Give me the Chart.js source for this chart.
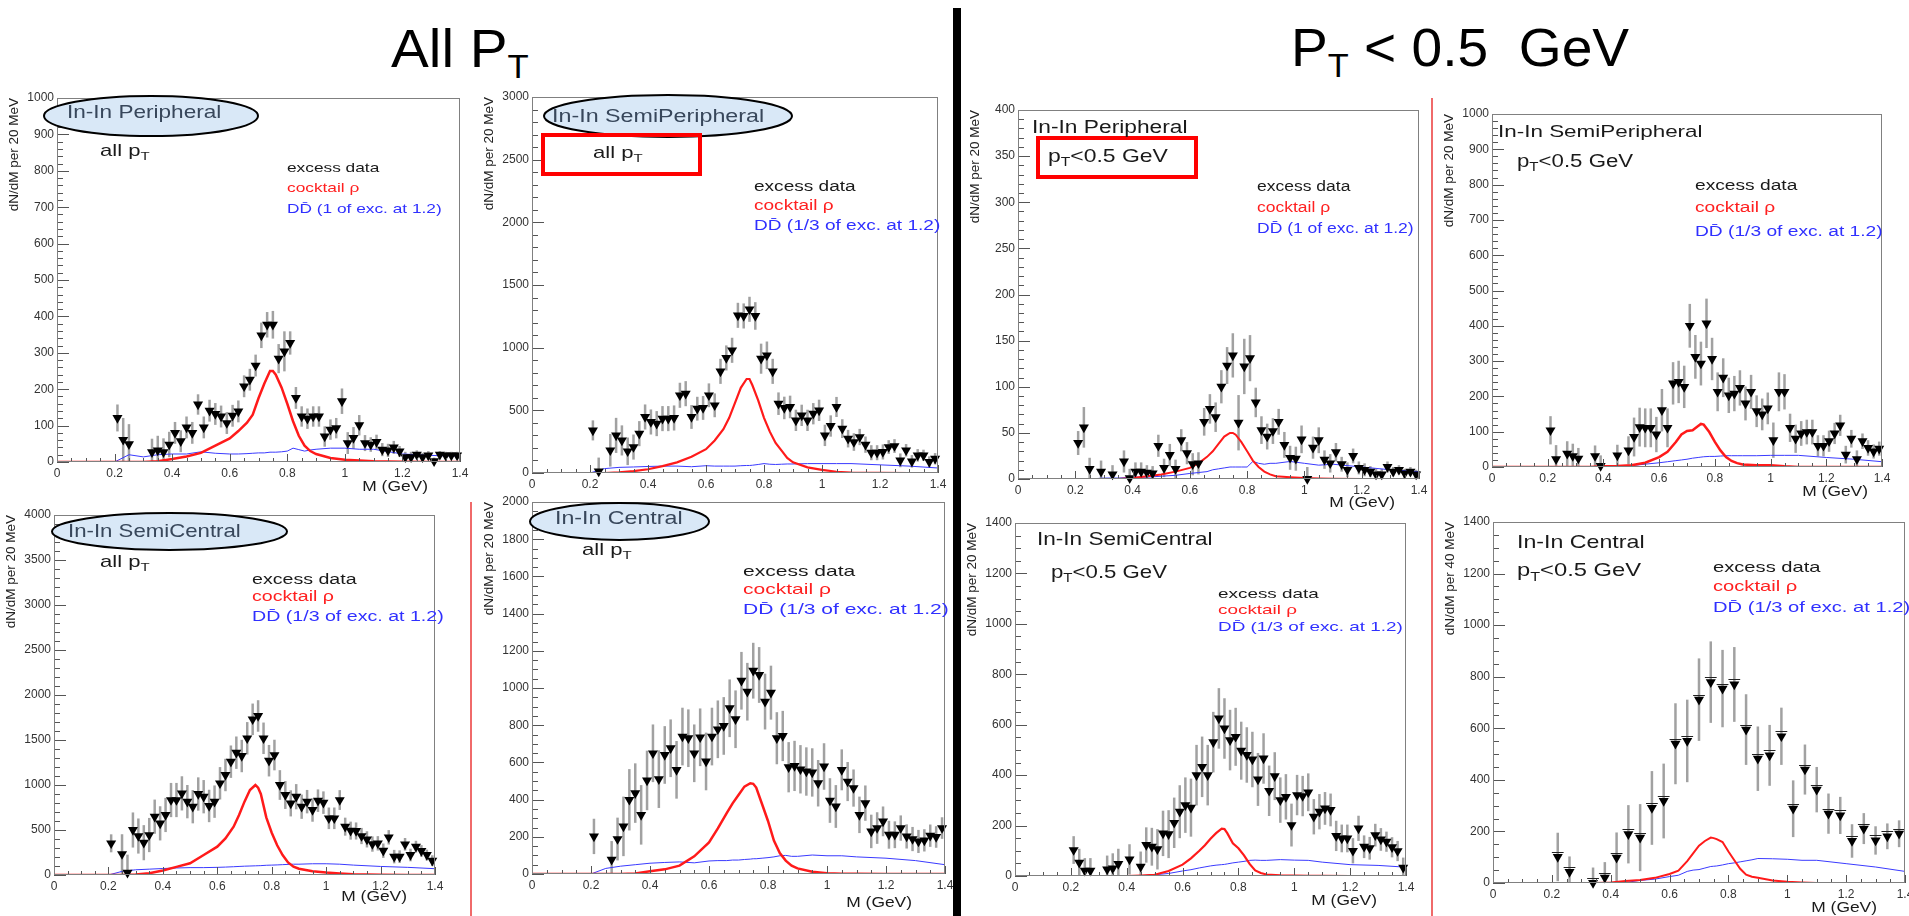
<!DOCTYPE html>
<html>
<head>
<meta charset="utf-8">
<script src="https://cdn.jsdelivr.net/npm/chart.js@4.4.1/dist/chart.umd.min.js"></script>
<style>
html, body { margin: 0; padding: 0; background: #fff; }
body { width: 1909px; height: 916px; position: relative; overflow: hidden; font-family: 'Liberation Sans', Arial, sans-serif; }
canvas { position: absolute; }
.head { position: absolute; font-size: 54px; line-height: 1; color: #000; white-space: nowrap; transform-origin: 0 0; }
.head span { font-size: 33px; position: relative; top: 11px; }
.bar { position: absolute; z-index: 5; }
</style>
</head>
<body>
<div class="head" style="left:391px; top:21px; transform:scaleX(1.05);">All P<span>T</span></div>
<div class="head" style="left:1291px; top:21px; font-size:53px; transform:scaleX(1.04);">P<span>T</span> &lt; 0.5&nbsp; GeV</div>
<div class="bar" style="left:953px; top:8px; width:8px; height:908px; background:#000;"></div>
<div class="bar" style="left:1431px; top:98px; width:2px; height:818px; background:#f06a6a;"></div>
<div class="bar" style="left:470px; top:502px; width:2px; height:414px; background:#f06a6a;"></div>
<script>
const FONT = "'Liberation Sans', Arial, sans-serif";
Chart.defaults.font.family = FONT;

// mass bins (GeV)
const mass20 = [0.21, 0.23, 0.25, 0.27, 0.29, 0.31, 0.33, 0.35, 0.37, 0.39,
  0.41, 0.43, 0.45, 0.47, 0.49, 0.51, 0.53, 0.55, 0.57, 0.59,
  0.61, 0.63, 0.65, 0.67, 0.69, 0.71, 0.73, 0.75, 0.77, 0.79,
  0.81, 0.83, 0.85, 0.87, 0.89, 0.91, 0.93, 0.95, 0.97, 0.99,
  1.01, 1.03, 1.05, 1.07, 1.09, 1.11, 1.13, 1.15, 1.17, 1.19,
  1.21, 1.23, 1.25, 1.27, 1.29, 1.31, 1.33, 1.35, 1.37, 1.39];
const mass40 = [0.22, 0.26, 0.30, 0.34, 0.38, 0.42, 0.46, 0.50, 0.54, 0.58,
  0.62, 0.66, 0.70, 0.74, 0.78, 0.82, 0.86, 0.90, 0.94, 0.98,
  1.02, 1.06, 1.10, 1.14, 1.18, 1.22, 1.26, 1.30, 1.34, 1.38];
const curveMass = [0, 0.1, 0.2, 0.25, 0.3, 0.35, 0.4, 0.45, 0.5, 0.55,
  0.6, 0.63, 0.66, 0.68, 0.7, 0.72, 0.74, 0.75, 0.76, 0.78,
  0.8, 0.82, 0.84, 0.86, 0.88, 0.9, 0.95, 1.0, 1.05, 1.1,
  1.2, 1.3, 1.4];

const xTickValues = [0, 0.2, 0.4, 0.6, 0.8, 1.0, 1.2, 1.4];
const xTickLabels = ['0', '0.2', '0.4', '0.6', '0.8', '1', '1.2', '1.4'];
const yTicks1000 = [0, 100, 200, 300, 400, 500, 600, 700, 800, 900, 1000];
const yTicks3000 = [0, 500, 1000, 1500, 2000, 2500, 3000];
const yTicks400 = [0, 50, 100, 150, 200, 250, 300, 350, 400];
const yTicks4000 = [0, 500, 1000, 1500, 2000, 2500, 3000, 3500, 4000];
const yTicks2000 = [0, 200, 400, 600, 800, 1000, 1200, 1400, 1600, 1800, 2000];
const yTicks1400 = [0, 200, 400, 600, 800, 1000, 1200, 1400];

// all pT, peripheral
const periphAllExcess = [121, 61, 49, null, null, null, 27, 32, 27, 48,
  80, 57, 95, 80, 158, 95, 141, 132, 125, 107,
  127, 139, 208, 226, 265, 348, 377, 377, 284, 304,
  327, 176, 125, 119, 125, 125, 70, 89, 93, 167,
  52, 66, 101, 52, 48, 55, 34, 32, 40, 29,
  13, 13, 20, 13, 18, 2, 20, 18, 18, 18];
const periphAllErr = [37, 60, 55, null, null, null, 37, 40, 38, 35,
  30, 30, 30, 30, 28, 30, 30, 30, 30, 30,
  30, 30, 30, 30, 30, 35, 35, 38, 40, 55,
  32, 30, 28, 28, 28, 28, 28, 28, 28, 35,
  30, 30, 28, 22, 20, 20, 18, 18, 18, 15,
  15, 15, 12, 12, 12, 10, 10, 10, 10, 10];
const periphAllCocktail = [0, 0, 0, 0, 0, 2, 8, 15, 25, 45,
  65, 85, 108, 130, 175, 215, 250, 250, 240, 205,
  160, 112, 72, 45, 30, 22, 11, 6, 4, 2, 1, 0, 0];
const periphAllDD = [0, 0, 0, 20, 14, 20, 22, 22, 28, 24,
  22, 22, 23, 24, 25, 25, 27, 27, 27, 28,
  30, 38, 34, 30, 33, 35, 38, 38, 35, 35, 22, 18, 16];

// all pT, semi-peripheral
const semiPeriphAllExcess = [340, 13, null, 181, 300, 260, 173, 207, 314, 447,
  407, 394, 434, 434, 439, 620, 633, 447, 513, 519,
  620, 540, 811, 918, 979, 1258, 1253, 1306, 1253, 912,
  939, 811, 553, 519, 527, 420, 460, 420, 473, 500,
  300, 375, 527, 354, 274, 247, 287, 226, 162, 162,
  168, 207, 215, 101, 181, 93, 141, 141, 88, 114];
const semiPeriphAllErr = [80, 110, null, 130, 140, 120, 110, 100, 100, 100,
  100, 100, 100, 100, 100, 100, 100, 95, 95, 95,
  95, 95, 100, 100, 100, 100, 100, 100, 110, 120,
  110, 100, 90, 90, 90, 85, 85, 85, 85, 85,
  85, 85, 80, 75, 70, 70, 65, 65, 60, 60,
  60, 55, 55, 55, 50, 50, 50, 45, 45, 45];
const semiPeriphAllCocktail = [0, 0, 0, 0, 5, 15, 30, 55, 85, 130,
  190, 260, 350, 440, 560, 680, 750, 750, 700, 580,
  440, 330, 240, 180, 120, 85, 45, 25, 10, 4, 1, 0, 0];
const semiPeriphAllDD = [0, 0, 0, 35, 45, 48, 52, 55, 55, 50,
  58, 55, 55, 55, 55, 58, 60, 60, 62, 68,
  75, 70, 68, 70, 72, 72, 75, 75, 75, 75, 65, 55, 40];

// all pT, semi-central
const semiCentralAllExcess = [352, null, 233, 26, 500, 433, 359, 444, 648, 574,
  667, 833, 833, 907, 815, 759, 900, 870, 767, 815,
  1019, 1111, 1259, 1359, 1322, 1519, 1730, 1767, 1519, 1270,
  1333, 1000, 889, 796, 870, 759, 815, 722, 826, 804,
  630, 630, 833, 537, 493, 489, 433, 396, 344, 352,
  270, 419, 204, 204, 341, 222, 315, 267, 222, 159];
const semiCentralAllErr = [100, null, 220, 200, 195, 195, 195, 190, 190, 190,
  190, 190, 190, 190, 185, 185, 185, 185, 180, 180,
  180, 180, 180, 180, 180, 180, 175, 175, 175, 175,
  170, 165, 155, 145, 140, 135, 130, 130, 125, 125,
  120, 120, 110, 100, 100, 95, 90, 90, 85, 80,
  80, 80, 75, 70, 70, 70, 65, 65, 60, 60];
const semiCentralAllCocktail = [0, 0, 0, 0, 5, 20, 50, 90, 130, 222,
  315, 407, 537, 667, 815, 944, 1000, 970, 900, 640,
  470, 330, 222, 140, 93, 70, 42, 28, 18, 8, 2, 0, 0];
const semiCentralAllDD = [0, 0, 0, 40, 58, 65, 72, 78, 82, 82,
  85, 88, 92, 95, 98, 100, 102, 103, 104, 108,
  110, 112, 115, 118, 120, 120, 125, 125, 120, 110, 95, 85, 70];

// all pT, central
const centralAllExcess = [202, null, null, 77, 188, 256, 399, 435, 318, 503,
  649, 510, 640, 676, 560, 739, 730, 649, 735, 605,
  739, 778, 796, 891, 832, 1039, 980, 1093, 1070, 927,
  975, 730, 742, 574, 581, 563, 551, 546, 488, 578,
  395, 363, 560, 497, 462, 318, 381, 229, 247, 283,
  211, 211, 247, 202, 188, 175, 181, 206, 199, 247];
const centralAllErr = [95, null, null, 100, 115, 160, 165, 160, 160, 160,
  155, 155, 155, 155, 155, 155, 155, 155, 155, 155,
  155, 155, 155, 155, 155, 155, 155, 150, 150, 150,
  145, 140, 135, 135, 135, 130, 130, 130, 125, 125,
  120, 115, 110, 105, 100, 98, 95, 90, 85, 80,
  75, 72, 68, 65, 65, 62, 60, 60, 58, 58];
const centralAllCocktail = [0, 0, 0, 0, 0, 3, 15, 25, 45, 95,
  170, 245, 327, 380, 425, 470, 488, 485, 465, 375,
  285, 180, 113, 72, 45, 30, 12, 4, 2, 1, 0, 0, 0];
const centralAllDD = [0, 0, 0, 30, 42, 50, 58, 62, 65, 60,
  70, 72, 72, 75, 75, 78, 80, 82, 82, 85,
  88, 92, 98, 100, 95, 95, 102, 98, 98, 92, 85, 72, 50];

// pT < 0.5 GeV, peripheral
const periphLowExcess = [39, 56, 11, null, 8, null, 5, null, 19, 1,
  8, 8, 7, 6, 36, 12, 26, 11, 42, 28,
  16, 17, 62, 76, 67, 100, 123, 134, 61, 122,
  131, 83, 53, 46, 52, 62, 37, 23, 22, 43,
  0, 34, 42, 21, 17, 29, 16, 10, 25, 12,
  10, 8, 5, 5, 13, 8, 10, 6, 8, 5];
const periphLowErr = [13, 22, 12, null, 12, null, 10, null, 12, 10,
  10, 10, 8, 8, 12, 10, 12, 10, 12, 12,
  12, 12, 15, 16, 16, 18, 20, 24, 30, 30,
  25, 16, 15, 14, 14, 14, 14, 13, 13, 15,
  13, 12, 14, 10, 10, 10, 8, 8, 8, 7,
  7, 6, 6, 6, 6, 5, 5, 5, 5, 5];
const periphLowCocktail = [0, 0, 0, 0, 0, 0, 1, 3, 5, 8,
  12, 17, 24, 30, 38, 46, 50, 50, 48, 40,
  30, 20, 13, 8, 5, 3, 2, 1, 0.5, 0.3, 0, 0, 0];
const periphLowDD = [0, 0, 0, 0, 1, 1, 2, 2, 3, 4,
  6, 7, 8, 10, 11, 12, 13, 13, 13, 13,
  13, 19, 17, 16, 17, 17, 19, 17, 15, 16, 13, 10, 8];

// pT < 0.5 GeV, semi-peripheral
const semiPeriphLowExcess = [104, 22, null, 38, 31, 24, null, null, 31, 3,
  null, null, 33, null, 47, 85, 113, 111, 111, 92,
  161, 111, 237, 241, 227, 400, 312, 293, 407, 306,
  213, 253, 203, 208, 224, 180, 213, 158, 149, 166,
  76, 213, 213, 111, 80, 95, 99, 99, 60, 60,
  73, 95, 118, 35, 80, 22, 73, 54, 44, 52];
const semiPeriphLowErr = [40, 40, null, 35, 35, 30, null, null, 30, 30,
  null, null, 30, null, 40, 55, 55, 55, 55, 50,
  60, 55, 60, 60, 60, 62, 62, 62, 70, 60,
  55, 55, 50, 50, 50, 48, 48, 45, 45, 45,
  50, 55, 50, 40, 40, 35, 35, 35, 30, 30,
  30, 30, 30, 25, 25, 25, 22, 22, 20, 20];
const semiPeriphLowCocktail = [0, 0, 0, 0, 0, 0, 2, 3, 5, 12,
  28, 43, 71, 92, 102, 104, 116, 122, 120, 99,
  71, 47, 28, 17, 11, 7, 5, 5, 2, 0, 0, 0, 0];
const semiPeriphLowDD = [0, 0, 0, 0, 0, 0, 0, 2, 4, 8,
  12, 15, 18, 20, 22, 25, 27, 28, 29, 30,
  30, 31, 32, 32, 32, 32, 32, 33, 33, 33, 27, 22, 15];

// pT < 0.5 GeV, semi-central
const semiCentralLowExcess = [103, 53, 21, 21, null, null, 26, 30, 48, null,
  66, null, 37, 123, 116, 106, 169, 166, 211, 255,
  281, 271, 400, 433, 400, 531, 625, 585, 539, 552,
  497, 480, 462, 383, 466, 338, 396, 301, 314, 202,
  321, 317, 332, 235, 255, 268, 262, 159, 149, 149,
  100, 189, 116, 110, 162, 145, 136, 114, 99, 33];
const semiCentralLowErr = [55, 55, 50, 50, null, null, 55, 60, 60, null,
  60, null, 60, 70, 75, 80, 90, 95, 100, 105,
  110, 115, 120, 120, 120, 120, 120, 120, 120, 115,
  115, 110, 110, 105, 100, 100, 95, 90, 90, 85,
  80, 80, 75, 70, 70, 65, 65, 60, 55, 55,
  50, 50, 45, 45, 45, 45, 40, 40, 40, 40];
const semiCentralLowCocktail = [0, 0, 0, 0, 0, 0, 0, 2, 5, 20,
  45, 70, 100, 122, 148, 170, 188, 186, 170, 130,
  110, 82, 48, 22, 12, 6, 3, 2, 1, 1, 0, 0, 0];
const semiCentralLowDD = [0, 0, 0, 0, 0, 0, 0, 1, 5, 10,
  20, 25, 32, 36, 40, 43, 45, 46, 48, 52,
  55, 58, 62, 63, 62, 62, 65, 63, 62, 55, 45, 42, 35];

// pT < 0.5 GeV, central (40 MeV bins)
const centralLowExcess = [101, 43, null, 0, 21, 98, 189, 176, 291, 318,
  540, 551, 711, 779, 754, 770, 595, 482, 495, 569,
  288, 440, 362, 269, 262, 163, 211, 165, 181, 191];
const centralLowErr = [94, 60, null, 60, 60, 98, 113, 130, 143, 145,
  157, 160, 160, 158, 150, 145, 137, 125, 118, 111,
  110, 97, 88, 78, 72, 65, 60, 55, 50, 52];
const centralLowCocktail = [0, 0, 0, 0, 0, 0, 2, 8, 12, 20,
  35, 48, 85, 115, 145, 163, 176, 174, 170, 159,
  122, 88, 55, 32, 24, 20, 10, 5, 2, 0, 0, 0, 0];
const centralLowDD = [0, 0, 0, 0, 0, 0, 0, 2, 10, 15,
  25, 30, 45, 50, 52, 58, 64, 65, 66, 70,
  75, 78, 82, 86, 90, 95, 94, 92, 88, 88, 75, 62, 45];

// panel placement (plot area in page pixels) and the texts on each plot
const ELL = '#38475b';
const panels = [
  { L: 57, T: 98, R: 460, B: 462, mass: mass20, excess: periphAllExcess, err: periphAllErr,
    cocktail: periphAllCocktail, dd: periphAllDD, yTicks: yTicks1000, yMinor: 20, yTitle: 'dN/dM per 20 MeV', red: 2.5,
    ellipse: { cx: 94, cy: 18, rx: 107, ry: 20 },
    title: { x: 10, y: 15, text: 'In-In Peripheral', size: 18.5, sx: 1.22, color: ELL },
    sub: { x: 43, y: 53, text: 'all p_{T}', size: 17, sx: 1.3 },
    legend: { x: 230, y: [70, 90, 111], size: 13, sx: 1.33, dd: ' (1 of exc. at 1.2)' },
    xTitle: { r: 32, y: 25 } },
  { L: 532, T: 97, R: 938, B: 473, mass: mass20, excess: semiPeriphAllExcess, err: semiPeriphAllErr,
    cocktail: semiPeriphAllCocktail, dd: semiPeriphAllDD, yTicks: yTicks3000, yMinor: 100, yTitle: 'dN/dM per 20 MeV', red: 2.2,
    ellipse: { cx: 136, cy: 19, rx: 124, ry: 21 },
    title: { x: 20, y: 20, text: 'In-In SemiPeripheral', size: 17.5, sx: 1.33, color: ELL },
    box: { x: 11, y: 38, w: 157, h: 39 },
    sub: { x: 61, y: 56, text: 'all p_{T}', size: 17, sx: 1.3 },
    legend: { x: 222, y: [90, 109, 129], size: 14, sx: 1.36, dd: ' (1/3 of exc. at 1.2)' },
    xTitle: null },
  { L: 1018, T: 110, R: 1419, B: 479, mass: mass20, excess: periphLowExcess, err: periphLowErr,
    cocktail: periphLowCocktail, dd: periphLowDD, yTicks: yTicks400, yMinor: 10, yTitle: 'dN/dM per 20 MeV', red: 2,
    title: { x: 14, y: 18, text: 'In-In Peripheral', size: 17.5, sx: 1.3, color: '#1a1a1a' },
    box: { x: 20, y: 28, w: 158, h: 39 },
    sub: { x: 30, y: 47, text: 'p_{T}<0.5 GeV', size: 18.5, sx: 1.24 },
    legend: { x: 239, y: [77, 98, 119], size: 14, sx: 1.25, dd: ' (1 of exc. at 1.2)' },
    xTitle: { r: 24, y: 24 } },
  { L: 1492, T: 114, R: 1882, B: 467, mass: mass20, excess: semiPeriphLowExcess, err: semiPeriphLowErr,
    cocktail: semiPeriphLowCocktail, dd: semiPeriphLowDD, yTicks: yTicks1000, yMinor: 20, yTitle: 'dN/dM per 20 MeV', red: 2.5,
    title: { x: 6, y: 18, text: 'In-In SemiPeripheral', size: 17, sx: 1.32, color: '#1a1a1a' },
    sub: { x: 25, y: 48, text: 'p_{T}<0.5 GeV', size: 17.5, sx: 1.27 },
    legend: { x: 203, y: [72, 94, 118], size: 14, sx: 1.37, dd: ' (1/3 of exc. at 1.2)' },
    xTitle: { r: 14, y: 25 } },
  { L: 54, T: 515, R: 435, B: 875, mass: mass20, excess: semiCentralAllExcess, err: semiCentralAllErr,
    cocktail: semiCentralAllCocktail, dd: semiCentralAllDD, yTicks: yTicks4000, yMinor: 100, yTitle: 'dN/dM per 20 MeV', red: 2.5,
    ellipse: { cx: 115.5, cy: 16.5, rx: 117.5, ry: 18.5 },
    title: { x: 14, y: 17, text: 'In-In SemiCentral', size: 18.5, sx: 1.2, color: ELL },
    sub: { x: 46, y: 47, text: 'all p_{T}', size: 17, sx: 1.3 },
    legend: { x: 198, y: [65, 82, 102], size: 14, sx: 1.4, dd: ' (1/3 of exc. at 1.2)' },
    xTitle: { r: 28, y: 22 } },
  { L: 532, T: 502, R: 945, B: 874, mass: mass20, excess: centralAllExcess, err: centralAllErr,
    cocktail: centralAllCocktail, dd: centralAllDD, yTicks: yTicks2000, yMinor: 50, yTitle: 'dN/dM per 20 MeV', red: 2.5,
    ellipse: { cx: 87.5, cy: 19.5, rx: 89.5, ry: 18.5 },
    title: { x: 23, y: 17, text: 'In-In Central', size: 19, sx: 1.22, color: ELL },
    sub: { x: 50, y: 48, text: 'all p_{T}', size: 17, sx: 1.3 },
    legend: { x: 211, y: [70, 88, 108], size: 14.5, sx: 1.45, dd: ' (1/3 of exc. at 1.2)' },
    xTitle: { r: 33, y: 29 } },
  { L: 1015, T: 523, R: 1406, B: 876, mass: mass20, excess: semiCentralLowExcess, err: semiCentralLowErr,
    cocktail: semiCentralLowCocktail, dd: semiCentralLowDD, yTicks: yTicks1400, yMinor: 50, yTitle: 'dN/dM per 20 MeV', red: 2.2,
    title: { x: 22, y: 17, text: 'In-In SemiCentral', size: 18.5, sx: 1.22, color: '#1a1a1a' },
    sub: { x: 36, y: 50, text: 'p_{T}<0.5 GeV', size: 18.5, sx: 1.2 },
    legend: { x: 203, y: [71, 87, 104], size: 13.5, sx: 1.4, dd: ' (1/3 of exc. at 1.2)' },
    xTitle: { r: 29, y: 25 } },
  { L: 1493, T: 522, R: 1905, B: 883, mass: mass40, excess: centralLowExcess, err: centralLowErr,
    cocktail: centralLowCocktail, dd: centralLowDD, yTicks: yTicks1400, yMinor: 50, yTitle: 'dN/dM per 40 MeV', red: 2,
    xErr: 0.02,
    title: { x: 24, y: 21, text: 'In-In Central', size: 19, sx: 1.22, color: '#1a1a1a' },
    sub: { x: 24, y: 49, text: 'p_{T}<0.5 GeV', size: 19, sx: 1.25 },
    legend: { x: 220, y: [46, 65, 86], size: 14.5, sx: 1.39, dd: ' (1/3 of exc. at 1.2)' },
    xTitle: { r: 28, y: 25 } }
];

// text with optional _{sub} parts, stretched horizontally by sx
function drawText(ctx, x, y, str, size, color, sx, align) {
  const parts = str.split(/(_\{[^}]*\})/).filter(s => s);
  ctx.save();
  ctx.textBaseline = 'middle';
  ctx.textAlign = 'left';
  let total = 0;
  const pieces = parts.map(s => {
    const sub = s.startsWith('_{');
    const t = sub ? s.slice(2, -1) : s;
    const f = (sub ? size * 0.68 : size) + 'px ' + FONT;
    ctx.font = f;
    const w = ctx.measureText(t).width;
    total += w;
    return { t, f, w, sub };
  });
  ctx.translate(x, y);
  ctx.scale(sx, 1);
  let cx = align === 'right' ? -total : 0;
  ctx.fillStyle = color;
  pieces.forEach(pc => {
    ctx.font = pc.f;
    ctx.fillText(pc.t, cx, pc.sub ? size * 0.32 : 0);
    cx += pc.w;
  });
  ctx.restore();
}

function rootPlugin(p) {
  return {
    id: 'rootStyle',
    beforeDatasetsDraw(chart) {
      const { ctx, chartArea: a } = chart;
      const x = chart.scales.x, y = chart.scales.y;
      ctx.save();
      ctx.beginPath();
      ctx.rect(a.left, a.top, a.right - a.left, a.bottom - a.top);
      ctx.clip();
      ctx.strokeStyle = 'rgba(125,125,125,0.72)';
      ctx.lineWidth = 2.5;
      p.mass.forEach((m, i) => {
        const v = p.excess[i];
        if (v === null) return;
        const px = x.getPixelForValue(m);
        ctx.beginPath();
        ctx.moveTo(px, y.getPixelForValue(v - p.err[i]));
        ctx.lineTo(px, y.getPixelForValue(v + p.err[i]));
        ctx.stroke();
      });
      if (p.xErr) {
        ctx.strokeStyle = '#222';
        ctx.lineWidth = 1;
        p.mass.forEach((m, i) => {
          const v = p.excess[i];
          if (v === null) return;
          const py = Math.round(y.getPixelForValue(v)) - 4.5;
          ctx.beginPath();
          ctx.moveTo(x.getPixelForValue(m - p.xErr), py);
          ctx.lineTo(x.getPixelForValue(m + p.xErr), py);
          ctx.stroke();
        });
      }
      ctx.restore();
    },
    afterDraw(chart) {
      const { ctx, chartArea: a } = chart;
      const x = chart.scales.x, y = chart.scales.y;
      const yMax = p.yTicks[p.yTicks.length - 1];
      ctx.save();
      // inner ticks
      ctx.strokeStyle = '#555';
      ctx.lineWidth = 1;
      ctx.beginPath();
      for (let v = 0; v <= yMax + 1e-6; v += p.yMinor) {
        const py = Math.round(y.getPixelForValue(v)) + 0.5;
        const len = p.yTicks.includes(v) ? 12 : 6;
        ctx.moveTo(a.left, py);
        ctx.lineTo(a.left + len, py);
      }
      for (let k = 0; k <= 28; k++) {
        const v = k * 0.05;
        const px = Math.round(x.getPixelForValue(v)) + 0.5;
        const len = k % 4 === 0 ? 8 : 4;
        ctx.moveTo(px, a.bottom);
        ctx.lineTo(px, a.bottom - len);
      }
      ctx.stroke();
      // frame
      ctx.strokeStyle = '#808080';
      ctx.strokeRect(a.left + 0.5, a.top + 0.5, a.right - a.left - 1, a.bottom - a.top - 1);

      if (p.ellipse) {
        const e = p.ellipse;
        ctx.beginPath();
        ctx.ellipse(a.left + e.cx, a.top + e.cy, e.rx, e.ry, 0, 0, Math.PI * 2);
        ctx.fillStyle = '#d9e8f7';
        ctx.fill();
        ctx.lineWidth = 2;
        ctx.strokeStyle = '#000';
        ctx.stroke();
      }
      if (p.box) {
        ctx.lineWidth = 4;
        ctx.strokeStyle = '#ff0000';
        ctx.strokeRect(a.left + p.box.x, a.top + p.box.y, p.box.w, p.box.h);
      }
      const t = p.title;
      drawText(ctx, a.left + t.x, a.top + t.y, t.text, t.size, t.color, t.sx);
      const s = p.sub;
      drawText(ctx, a.left + s.x, a.top + s.y, s.text, s.size, '#1a1a1a', s.sx);
      const lg = p.legend;
      drawText(ctx, a.left + lg.x, a.top + lg.y[0], 'excess data', lg.size, '#1a1a1a', lg.sx);
      drawText(ctx, a.left + lg.x, a.top + lg.y[1], 'cocktail \u03c1', lg.size, '#ff2020', lg.sx);
      drawText(ctx, a.left + lg.x, a.top + lg.y[2], 'DD\u0304' + lg.dd, lg.size, '#3030ff', lg.sx);
      if (p.xTitle) {
        drawText(ctx, a.right - p.xTitle.r, a.bottom + p.xTitle.y, 'M (GeV)', 14.5, '#1a1a1a', 1.2, 'right');
      }
      ctx.restore();
    }
  };
}

function makePanel(p) {
  const padL = 60, padT = 12, padR = 12, padB = 45;
  const canvas = document.createElement('canvas');
  canvas.width = (p.R - p.L) + padL + padR;
  canvas.height = (p.B - p.T) + padT + padB;
  canvas.style.left = (p.L - padL) + 'px';
  canvas.style.top = (p.T - padT) + 'px';
  document.body.appendChild(canvas);

  const points = p.mass.map((m, i) => ({ x: m, y: p.excess[i] })).filter(d => d.y !== null);
  const cocktail = curveMass.map((m, i) => ({ x: m, y: p.cocktail[i] }));
  const dd = curveMass.map((m, i) => ({ x: m, y: p.dd[i] }));
  const yMax = p.yTicks[p.yTicks.length - 1];

  new Chart(canvas, {
    type: 'scatter',
    data: {
      datasets: [
        { label: 'excess data', data: points, pointStyle: 'triangle', rotation: 180, pointRadius: 5.8,
          backgroundColor: '#000', borderWidth: 0, order: 0, clip: 8 },
        { label: 'cocktail rho', data: cocktail, showLine: true, pointRadius: 0, borderColor: '#ff1a1a',
          borderWidth: p.red, tension: 0, order: 1 },
        { label: 'DDbar', data: dd, showLine: true, pointRadius: 0, borderColor: '#3a3aff',
          borderWidth: 1, tension: 0, order: 2 }
      ]
    },
    options: {
      responsive: false,
      animation: false,
      events: [],
      layout: { padding: { left: 0, top: padT, right: padR, bottom: 0 } },
      plugins: { legend: { display: false }, tooltip: { enabled: false } },
      scales: {
        x: {
          type: 'linear', min: 0, max: 1.4,
          grid: { display: false, drawTicks: false }, border: { display: false },
          afterBuildTicks: sc => { sc.ticks = xTickValues.map(v => ({ value: v })); },
          afterFit: sc => { sc.height = padB; sc.paddingLeft = 0; sc.paddingRight = 0; },
          ticks: { autoSkip: false, maxRotation: 0, padding: 4, color: '#333', font: { size: 12 },
            callback: (v, i) => xTickLabels[i] }
        },
        y: {
          type: 'linear', min: 0, max: yMax,
          grid: { display: false, drawTicks: false }, border: { display: false },
          afterBuildTicks: sc => { sc.ticks = p.yTicks.map(v => ({ value: v })); },
          afterFit: sc => { sc.width = padL; sc.paddingTop = 0; sc.paddingBottom = 0; },
          ticks: { autoSkip: false, padding: 3, color: '#333', font: { size: 12 },
            callback: v => String(v) },
          title: { display: true, text: p.yTitle, align: 'end', color: '#222',
            font: { size: 13.5 }, padding: { top: 9, bottom: 0 } }
        }
      }
    },
    plugins: [rootPlugin(p)]
  });
}

panels.forEach(makePanel);
</script>
</body>
</html>
